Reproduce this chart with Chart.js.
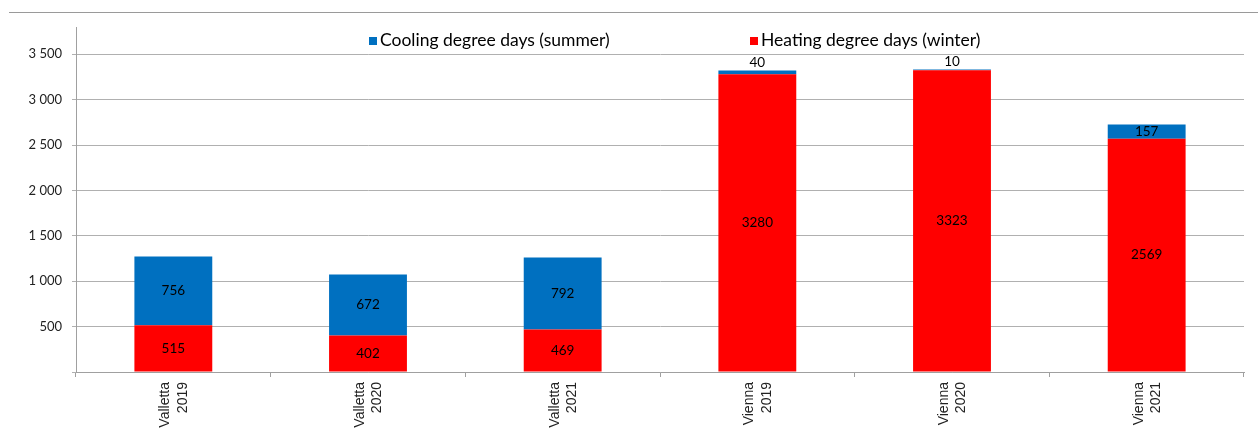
<!DOCTYPE html>
<html>
<head>
<meta charset="utf-8">
<script src="https://cdn.jsdelivr.net/npm/chart.js@4/dist/chart.umd.min.js"></script>
<style>
	html, body { margin: 0; padding: 0; background: #fff; overflow: hidden; }
	#wrap { position: relative; width: 1258px; height: 432px; }
	#topRule { position: absolute; left: 9px; right: 0; top: 12px; height: 0; border-top: 1px solid #9a9a9a; }
	#legend { position: absolute; top: 29px; left: 0; width: 1258px; height: 22px; font-family: Lato, sans-serif; font-size: 17.5px; color: #000; }
	.lg-item { position: absolute; top: 0; white-space: nowrap; }
	.lg-box { display: inline-block; width: 8px; height: 8px; margin-right: 3px; vertical-align: 1px; }
</style>
</head>
<body>
<div id="wrap">
	<canvas id="ddChart" width="1258" height="432"></canvas>
	<div id="topRule"></div>
	<div id="legend"></div>
</div>
<script>
const categories = [
	["Valletta", "2019"],
	["Valletta", "2020"],
	["Valletta", "2021"],
	["Vienna", "2019"],
	["Vienna", "2020"],
	["Vienna", "2021"],
];
const heatingDays = [515, 402, 469, 3280, 3323, 2569];
const coolingDays = [756, 672, 792, 40, 10, 157];
const yTicks = [0, 500, 1000, 1500, 2000, 2500, 3000, 3500];

const heatingLabel = "Heating degree days (winter)";
const coolingLabel = "Cooling degree days (summer)";
const heatingColor = "#FF0000";
const coolingColor = "#0070C0";

function fmtThousands(v) {
	return String(v).replace(/\B(?=(\d{3})+(?!\d))/g, " ");
}

// numbers inside each segment, or just above the bar when the segment is too thin
const segmentLabels = {
	id: "segmentLabels",
	afterDatasetsDraw(chart) {
		const ctx = chart.ctx;
		ctx.save();
		ctx.font = "13.5px Lato, sans-serif";
		ctx.fillStyle = "#000";
		ctx.textAlign = "center";
		ctx.textBaseline = "middle";
		chart.data.datasets.forEach(function (ds, di) {
			const meta = chart.getDatasetMeta(di);
			meta.data.forEach(function (bar, i) {
				const h = Math.abs(bar.base - bar.y);
				let y = (bar.y + bar.base) / 2;
				if (h < 12) y = bar.y - 8;
				ctx.fillText(String(ds.data[i]), bar.x, y);
			});
		});
		ctx.restore();
	},
};

const ctx = document.getElementById("ddChart").getContext("2d");
const chart = new Chart(ctx, {
	type: "bar",
	data: {
		labels: categories,
		datasets: [
			{ label: heatingLabel, data: heatingDays, backgroundColor: heatingColor },
			{ label: coolingLabel, data: coolingDays, backgroundColor: coolingColor },
		],
	},
	options: {
		responsive: false,
		animation: false,
		layout: { padding: { top: 27, right: 14, left: 0, bottom: 0 } },
		datasets: {
			bar: { categoryPercentage: 1, barPercentage: 0.4, borderWidth: 0 },
		},
		plugins: {
			legend: { display: false },
			title: { display: false },
			tooltip: { enabled: false },
		},
		scales: {
			x: {
				stacked: true,
				offset: true,
				grid: {
					offset: true,
					drawOnChartArea: false,
					tickLength: 5,
					color: "#a0a0a0",
				},
				border: { color: "#a0a0a0" },
				ticks: {
					minRotation: 90,
					maxRotation: 90,
					padding: 5,
					labelOffset: -8,
					color: "#222",
					font: { family: "'Liberation Sans', Arial, sans-serif", size: 14, lineHeight: 1.25 },
				},
				afterFit(scale) {
					scale.height = 60;
				},
			},
			y: {
				stacked: true,
				min: 0,
				max: 3800,
				grid: { color: "#b0b0b0", tickLength: 4 },
				border: { color: "#a0a0a0" },
				afterBuildTicks(scale) {
					scale.ticks = yTicks.map(function (v) { return { value: v }; });
				},
				ticks: {
					padding: 10,
					color: "#222",
					font: { family: "Lato, sans-serif", size: 13 },
					callback: function (v) {
						return v === 0 ? "" : fmtThousands(v);
					},
				},
				afterFit(scale) {
					scale.width = 76;
				},
			},
		},
	},
	plugins: [segmentLabels],
});

// legend drawn by hand, cooling first
const legendItems = [
	{ label: coolingLabel, color: coolingColor, left: 369 },
	{ label: heatingLabel, color: heatingColor, left: 750 },
];
let legendHtml = "";
legendItems.forEach(function (item) {
	legendHtml +=
		'<span class="lg-item" style="left:' + item.left + 'px;">' +
		'<span class="lg-box" style="background:' + item.color + ';"></span>' +
		item.label +
		"</span>";
});
document.getElementById("legend").innerHTML = legendHtml;
</script>
</body>
</html>
